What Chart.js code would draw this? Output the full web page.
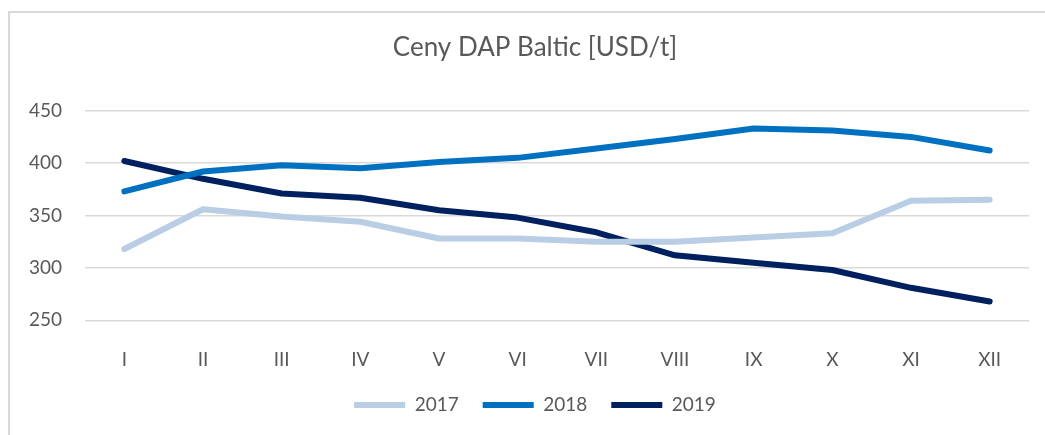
<!DOCTYPE html>
<html>
<head>
<meta charset="utf-8">
<script src="https://cdn.jsdelivr.net/npm/chart.js@4"></script>
<style>
  body { margin: 0; background: #fff; overflow: hidden; }
  #frame { position: absolute; left: 8px; top: 11px; width: 1100px; height: 500px; border: 2px solid #d9d9d9; box-sizing: border-box; }
  #wrap { position: absolute; left: 0; top: 0; width: 1070px; height: 435px; }
</style>
</head>
<body>
<div id="frame"></div>
<div id="wrap"><canvas id="myChart"></canvas></div>
<script>
// data
const months = ['I', 'II', 'III', 'IV', 'V', 'VI', 'VII', 'VIII', 'IX', 'X', 'XI', 'XII'];
const prices2017 = [318, 356, 349, 344, 328, 328, 325, 325, 329, 333, 364, 365];
const prices2018 = [373, 392, 398, 395, 401, 405, 414, 423, 433, 431, 425, 412];
const prices2019 = [402, 385, 371, 367, 355, 348, 334, 312, 305, 298, 281, 268];
const yTicks = [250, 300, 350, 400, 450];

const textColor = '#595959';
const gridColor = '#d9d9d9';

function lineSet(label, values, color) {
  return {
    label: label,
    data: values,
    borderColor: color,
    backgroundColor: color,
    borderWidth: 6,
    borderCapStyle: 'round',
    borderJoinStyle: 'round',
    pointRadius: 0,
    pointHoverRadius: 0,
    tension: 0,
    fill: false
  };
}

const data = {
  labels: months,
  datasets: [
    lineSet('2017', prices2017, '#b9cde5'),
    lineSet('2018', prices2018, '#0070c0'),
    lineSet('2019', prices2019, '#002060')
  ]
};

const config = {
  type: 'line',
  data: data,
  options: {
    responsive: true,
    maintainAspectRatio: false,
    animation: false,
    layout: { padding: { left: 0, right: 0, top: 0, bottom: 10.5 } },
    plugins: {
      title: {
        display: true,
        text: 'Ceny DAP Baltic [USD/t]',
        color: textColor,
        font: { family: 'Lato', size: 26, weight: 'normal', lineHeight: 1.2 },
        padding: { top: 32.4, bottom: 47.1 }
      },
      legend: {
        position: 'bottom',
        labels: {
          color: textColor,
          font: { family: 'Lato', size: 19 },
          usePointStyle: true,
          pointStyle: 'line',
          pointStyleWidth: 51,
          padding: 24
        }
      },
      tooltip: { enabled: false }
    },
    scales: {
      x: {
        offset: true,
        grid: { display: false },
        border: { display: false },
        ticks: {
          color: textColor,
          font: { family: 'Lato', size: 19 },
          padding: 20,
          maxRotation: 0
        },
        afterFit: function (scale) { scale.height = 51.2; }
      },
      y: {
        min: yTicks[0],
        max: yTicks[yTicks.length - 1],
        afterBuildTicks: function (scale) {
          scale.ticks = yTicks.map(function (v) { return { value: v }; });
        },
        grid: { color: gridColor, lineWidth: 1.5, drawTicks: false },
        border: { display: false },
        ticks: {
          color: textColor,
          font: { family: 'Lato', size: 19 },
          padding: 23
        },
        afterFit: function (scale) { scale.width = 85; }
      },
      // empty right-hand spacer so title and legend centre like the original
      spacer: {
        type: 'linear',
        position: 'right',
        grid: { display: false },
        border: { display: false },
        ticks: { display: false },
        afterFit: function (scale) { scale.width = 41; }
      }
    }
  }
};

const canvasChart = document.getElementById('myChart');
const myChart = new Chart(canvasChart, config);
</script>
</body>
</html>
